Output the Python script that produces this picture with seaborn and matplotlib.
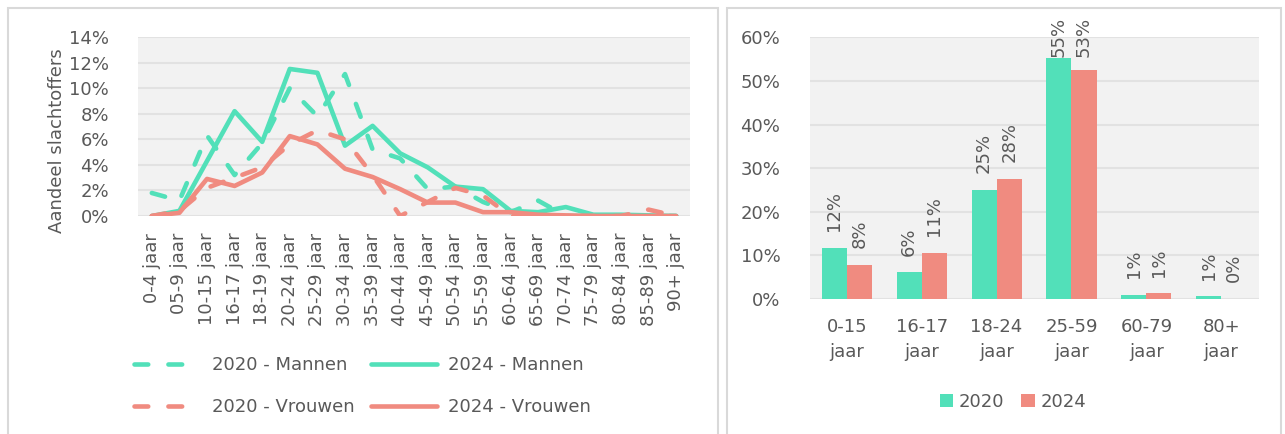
import numpy as np
import pandas as pd
import matplotlib
matplotlib.use('Agg')
from matplotlib import pyplot as plt
import matplotlib.ticker as mtick
from matplotlib.patches import Rectangle
import seaborn as sns

# --- data, left chart (share of victims per age group, %) ---
leeftijd = ['0-4 jaar', '05-9 jaar', '10-15 jaar', '16-17 jaar', '18-19 jaar',
            '20-24 jaar', '25-29 jaar', '30-34 jaar', '35-39 jaar', '40-44 jaar',
            '45-49 jaar', '50-54 jaar', '55-59 jaar', '60-64 jaar', '65-69 jaar',
            '70-74 jaar', '75-79 jaar', '80-84 jaar', '85-89 jaar', '90+ jaar']
mannen_2020 = [1.8, 1.2, 6.3, 3.2, 5.7, 10.0, 7.8, 11.1, 5.2, 4.5,
               2.1, 2.3, 1.1, 0.3, 1.2, 0.0, 0.0, 0.0, 0.0, 0.0]
mannen_2024 = [0.0, 0.4, 4.3, 8.2, 5.8, 11.5, 11.2, 5.5, 7.05, 4.9,
               3.8, 2.3, 2.1, 0.4, 0.3, 0.7, 0.1, 0.1, 0.05, 0.0]
vrouwen_2020 = [0.0, 0.4, 2.2, 3.0, 3.8, 5.6, 6.7, 6.0, 3.2, 0.0,
                1.1, 2.2, 1.6, 0.0, 0.0, 0.0, 0.0, 0.0, 0.5, 0.0]
vrouwen_2024 = [0.0, 0.25, 2.9, 2.35, 3.4, 6.25, 5.6, 3.7, 3.05, 2.1,
                1.05, 1.05, 0.3, 0.3, 0.1, 0.05, 0.0, 0.0, 0.0, 0.0]

# --- data, right chart ---
groepen = ['0-15\njaar', '16-17\njaar', '18-24\njaar', '25-59\njaar', '60-79\njaar', '80+\njaar']
jaar_2020 = [11.7, 6.1, 25.1, 55.3, 0.9, 0.6]
jaar_2024 = [7.9, 10.6, 27.6, 52.6, 1.3, 0.0]

groen = '#52E0B9'
zalm = '#F08B80'
tekst = '#595959'

sns.set_style('white')
plt.rcParams['font.family'] = ['DejaVu Sans']
plt.rcParams['font.size'] = 13
plt.rcParams['text.color'] = tekst
plt.rcParams['axes.labelcolor'] = tekst
plt.rcParams['xtick.color'] = tekst
plt.rcParams['ytick.color'] = tekst

W, H = 1285, 434
fig = plt.figure(figsize=(W / 100, H / 100), dpi=100)

def box(x0, x1, y0, y1):
    return [x0 / W, 1 - y1 / H, (x1 - x0) / W, (y1 - y0) / H]

# panel frames
for x0, x1 in [(8, 718), (727, 1281)]:
    fig.patches.append(Rectangle((x0 / W, -0.05), (x1 - x0) / W, 1.05 - 8 / H,
                                 transform=fig.transFigure, fill=False,
                                 edgecolor='#d9d9d9', linewidth=1.5))

# ---------------- left: lines ----------------
ax = fig.add_axes(box(138, 690, 37, 216))
ax.set_facecolor('#f2f2f2')
dash = (0, (3.0, 4.4))
series = [
    (mannen_2020, groen, dash, '2020 - Mannen'),
    (mannen_2024, groen, '-', '2024 - Mannen'),
    (vrouwen_2020, zalm, dash, '2020 - Vrouwen'),
    (vrouwen_2024, zalm, '-', '2024 - Vrouwen'),
]
for vals, col, ls, lab in series:
    sns.lineplot(x=leeftijd, y=np.array(vals) / 100, color=col, linestyle=ls,
                 linewidth=3.3, label=lab, sort=False, ax=ax,
                 dash_capstyle='round', solid_capstyle='round', solid_joinstyle='round')
ax.set_xlim(-0.5, len(leeftijd) - 0.5)
ax.set_ylim(0, 0.14)
ax.yaxis.set_major_locator(mtick.MultipleLocator(0.02))
ax.yaxis.set_major_formatter(mtick.PercentFormatter(1.0, decimals=0))
ax.grid(axis='y', color='#e2e2e2', linewidth=1.5)
ax.set_axisbelow(True)
for s in ax.spines.values():
    s.set_visible(False)
ax.tick_params(axis='both', length=0, labelsize=13)
ax.tick_params(axis='y', pad=21)
ax.tick_params(axis='x', pad=12)
plt.setp(ax.get_xticklabels(), rotation=90)
ax.set_xlabel('')
ax.set_ylabel('Aandeel slachtoffers', fontsize=13)
ax.yaxis.set_label_coords(-0.13, 0.42)

h, l = ax.get_legend_handles_labels()
order = [0, 2, 1, 3]
ax.legend([h[i] for i in order], [l[i] for i in order], ncol=2,
          loc='upper left', bbox_to_anchor=(134 / W, 1 - 356 / H),
          bbox_transform=fig.transFigure, frameon=False, fontsize=13,
          handlelength=3.7, handletextpad=0.6, columnspacing=0.9,
          labelspacing=1.35, borderpad=0, borderaxespad=0)

# ---------------- right: bars ----------------
df = pd.DataFrame({
    'groep': groepen * 2,
    'waarde': jaar_2020 + jaar_2024,
    'jaar': ['2020'] * len(groepen) + ['2024'] * len(groepen),
})
ax2 = fig.add_axes(box(809.5, 1258.6, 37.3, 299))
ax2.set_facecolor('#f2f2f2')
sns.barplot(data=df, x='groep', y='waarde', hue='jaar', palette=[groen, zalm],
            width=0.67, gap=0, saturation=1, linewidth=0, edgecolor='none', ax=ax2)
labels = []
for cont in ax2.containers:
    labels += ax2.bar_label(cont, labels=[f'{b.get_height():.0f}%' for b in cont],
                            rotation=90, padding=12, fontsize=13, color=tekst)
ax2.set_ylim(0, 60)
ax2.set_xlim(-0.5, len(groepen) - 0.5)
ax2.yaxis.set_major_locator(mtick.MultipleLocator(10))
ax2.yaxis.set_major_formatter(mtick.PercentFormatter(100, decimals=0))
ax2.grid(axis='y', color='#e2e2e2', linewidth=1.5)
ax2.set_axisbelow(True)
for s in ax2.spines.values():
    s.set_visible(False)
ax2.tick_params(axis='both', length=0, labelsize=13)
ax2.tick_params(axis='y', pad=21)
ax2.tick_params(axis='x', pad=14)
for t in ax2.get_xticklabels():
    t.set_linespacing(1.5)
ax2.set_xlabel('')
ax2.set_ylabel('')
ax2.legend(loc='upper center', bbox_to_anchor=(1013 / W, 1 - 393 / H),
           bbox_transform=fig.transFigure, ncol=2, frameon=False, fontsize=13,
           handlelength=0.75, handleheight=0.75, handletextpad=0.3,
           columnspacing=0.95, borderpad=0, borderaxespad=0)

# keep data labels inside the chart area (top edge ~17 px)
fig.canvas.draw()
r = fig.canvas.get_renderer()
for t in labels:
    bb = t.get_window_extent(r)
    over = bb.y1 - (H - 17)
    if over > 0:
        dx, dy = t.xyann
        t.xyann = (dx, dy - over * 72 / 100)

fig.savefig('out.png', dpi=100)
